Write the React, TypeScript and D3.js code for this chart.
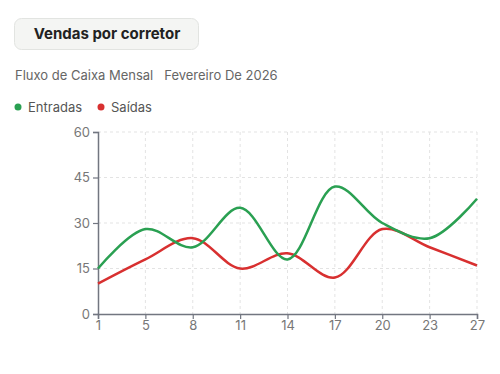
import React, { useEffect, useRef } from 'react'
import * as d3 from 'd3'

const dias = ['1', '5', '8', '11', '14', '17', '20', '23', '27']
const entradas = [15, 28, 22, 35, 18, 42, 30, 25, 38]
const saidas = [10, 18, 25, 15, 20, 12, 28, 22, 16]
const yTicks = [0, 15, 30, 45, 60]

const verde = '#2aa052'
const vermelho = '#d83030'

export default function App() {
    const ref = useRef<SVGSVGElement>(null)

    useEffect(() => {
        const svg = d3.select(ref.current)
        svg.selectAll('*').remove()

        let left = 98, right = 477, top = 132, bottom = 314

        // title box
        svg.append('rect')
            .attr('x', 14.5).attr('y', 18.5)
            .attr('width', 184).attr('height', 31)
            .attr('rx', 7)
            .attr('fill', '#f4f5f3')
            .attr('stroke', '#e2e4e1')
        svg.append('text')
            .attr('x', 107).attr('y', 39)
            .attr('text-anchor', 'middle')
            .text('Vendas por corretor')
            .style('font-size', '15px')
            .style('font-weight', 'bold')
            .style('fill', '#222')

        svg.append('text')
            .attr('x', 15).attr('y', 80)
            .text('Fluxo de Caixa Mensal   Fevereiro De 2026')
            .style('font-size', '13px')
            .style('fill', '#666')
            .style('white-space', 'pre')

        // legend
        const legenda = [{ nome: 'Entradas', cor: verde, x: 18 }, { nome: 'Saídas', cor: vermelho, x: 101 }]
        legenda.forEach(l => {
            svg.append('circle').attr('cx', l.x).attr('cy', 107).attr('r', 3.5).attr('fill', l.cor)
            svg.append('text')
                .attr('x', l.x + 10).attr('y', 111.5)
                .text(l.nome)
                .style('font-size', '13px')
                .style('fill', '#555')
        })

        const x = d3.scalePoint<string>().domain(dias).range([left, right])
        const y = d3.scaleLinear().domain([0, 60]).range([bottom, top])

        const grid = svg.append('g')
        grid.selectAll('line.h')
            .data(yTicks.slice(1))
            .enter()
            .append('line')
            .attr('x1', left).attr('x2', right)
            .attr('y1', d => y(d)).attr('y2', d => y(d))
            .attr('stroke', '#e3e3e3')
            .attr('stroke-dasharray', '3,3')
        grid.selectAll('line.v')
            .data(dias.slice(1))
            .enter()
            .append('line')
            .attr('x1', d => x(d)!).attr('x2', d => x(d)!)
            .attr('y1', top).attr('y2', bottom)
            .attr('stroke', '#e3e3e3')
            .attr('stroke-dasharray', '3,3')

        const yAxis = svg.append('g')
            .attr('transform', 'translate(' + left + ',0)')
            .call(d3.axisLeft(y).tickValues(yTicks).tickSize(5).tickPadding(3))
        const xAxis = svg.append('g')
            .attr('transform', 'translate(0,' + bottom + ')')
            .call(d3.axisBottom(x).tickSize(5).tickPadding(2))
        ;[yAxis, xAxis].forEach(a => {
            a.select('.domain').attr('stroke', '#727680').attr('stroke-width', 1.5)
            a.selectAll('.tick line').attr('stroke', '#727680').attr('stroke-width', 1.2)
            a.selectAll('text')
                .style('font-size', '13px')
                .style('fill', '#777')
                .style('font-family', 'Inter, sans-serif')
        })

        const linha = d3.line<number>()
            .x((d, i) => x(dias[i])!)
            .y(d => y(d))
            .curve(d3.curveCatmullRom.alpha(0.5))

        svg.append('path')
            .datum(saidas)
            .attr('d', linha)
            .attr('fill', 'none')
            .attr('stroke', vermelho)
            .attr('stroke-width', 2.5)
        svg.append('path')
            .datum(entradas)
            .attr('d', linha)
            .attr('fill', 'none')
            .attr('stroke', verde)
            .attr('stroke-width', 2.5)
    }, [])

    return (
        <svg ref={ref} width={500} height={374}
            style={{ position: 'absolute', left: 0, top: 0, fontFamily: 'Inter, sans-serif', background: '#fff' }} />
    )
}
